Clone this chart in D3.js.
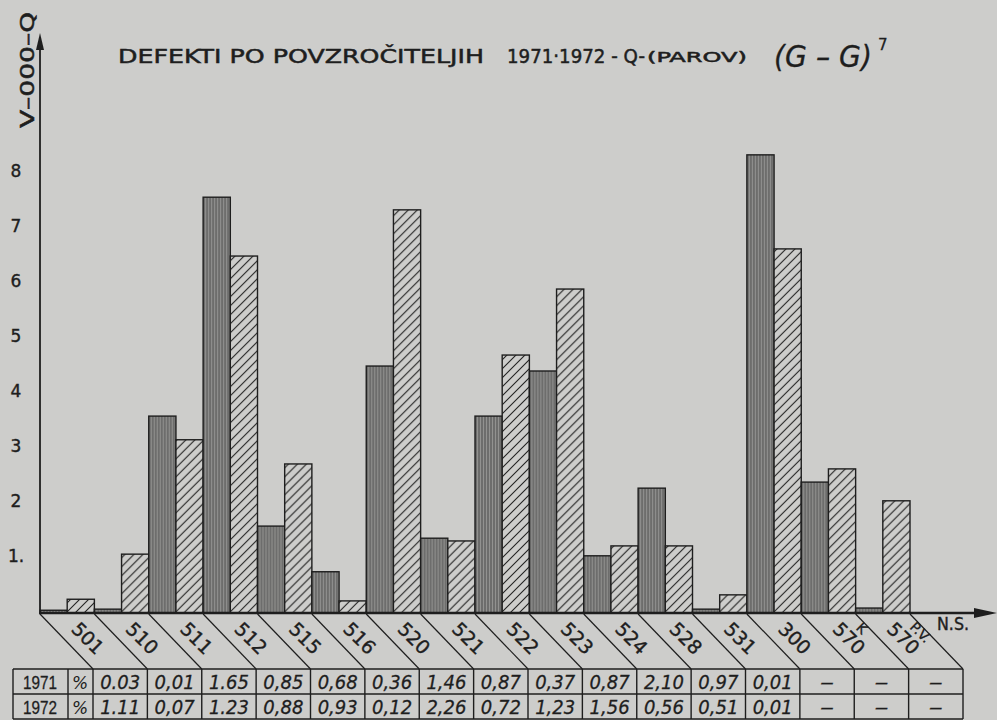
<!DOCTYPE html>
<html>
<head>
<meta charset="utf-8">
<script src="https://cdn.jsdelivr.net/npm/d3@7"></script>
<style>
  body { margin: 0; background: #cdcdcb; }
  svg { display: block; }
</style>
</head>
<body>
<svg id="chart" width="997" height="720"></svg>
<script>
// categories (povzročitelji) and sub labels under 570
var categories = ["501", "510", "511", "512", "515", "516", "520", "521", "522", "523", "524", "528", "531", "300", "570", "570"];
var subLabels  = ["", "", "", "", "", "", "", "", "", "", "", "", "", "", "K", "P.V."];
var years = ["1971", "1972"];

// bar heights
var values1971 = [0.05, 0.07, 3.58, 7.56, 1.58, 0.75, 4.49, 1.36, 3.58, 4.40, 1.04, 2.27, 0.07, 8.33, 2.38, 0.09];
var values1972 = [0.25, 1.07, 3.15, 6.49, 2.71, 0.22, 7.33, 1.31, 4.69, 5.89, 1.22, 1.22, 0.33, 6.62, 2.62, 2.04];

var yTicks = [1, 2, 3, 4, 5, 6, 7, 8];

// table under the chart (% per year)
var table1971 = ["0.03", "0,01", "1.65", "0,85", "0,68", "0,36", "1,46", "0,87", "0,37", "0,87", "2,10", "0,97", "0,01", "–", "–", "–"];
var table1972 = ["1.11", "0,07", "1.23", "0,88", "0,93", "0,12", "2,26", "0,72", "1,23", "1,56", "0,56", "0,51", "0,01", "–", "–", "–"];

var ink = "#1e1e1e";
var paper = "#cdcdcb";

var svg = d3.select("#chart");

var defs = svg.append("defs");
var pv = defs.append("pattern")
  .attr("id", "vert")
  .attr("patternUnits", "userSpaceOnUse")
  .attr("width", 3).attr("height", 10);
pv.append("rect").attr("width", 3).attr("height", 10).attr("fill", "#929290");
pv.append("line").attr("x1", 1).attr("x2", 1).attr("y1", 0).attr("y2", 10)
  .attr("stroke", "#4e4e4e").attr("stroke-width", 1.1);

var pd = defs.append("pattern")
  .attr("id", "diag")
  .attr("patternUnits", "userSpaceOnUse")
  .attr("width", 9).attr("height", 9);
pd.append("rect").attr("width", 9).attr("height", 9).attr("fill", paper);
pd.append("path").attr("d", "M0,9 L9,0 M-2,2 L2,-2 M7,11 L11,7")
  .attr("stroke", "#222").attr("stroke-width", 1.1);

// scales
var idx = d3.range(categories.length);
var x = d3.scaleBand().domain(idx).range([40, 910]).padding(0);
var x1 = d3.scaleBand().domain(years).range([0, x.bandwidth()]).padding(0);
var y = d3.scaleLinear().domain([0, 8]).range([613, 173]);
var w = x.bandwidth();

// title
var title = svg.append("g").attr("fill", ink).attr("stroke", ink).attr("stroke-width", 0.5)
  .style("font-family", "DejaVu Sans");
title.append("text").attr("x", 118).attr("y", 63)
  .style("font-size", "19px")
  .attr("textLength", 366).attr("lengthAdjust", "spacingAndGlyphs")
  .text("DEFEKTI PO POVZROČITELJIH");
title.append("text").attr("x", 507).attr("y", 63)
  .style("font-size", "19px")
  .attr("textLength", 138).attr("lengthAdjust", "spacingAndGlyphs")
  .text("1971·1972 - Q-");
title.append("text").attr("x", 647).attr("y", 62)
  .style("font-size", "14px")
  .attr("textLength", 100).attr("lengthAdjust", "spacingAndGlyphs")
  .text("(PAROV)");
title.append("text").attr("x", 774).attr("y", 67)
  .style("font-style", "italic")
  .style("font-size", "30px")
  .attr("stroke-width", 0.3)
  .attr("textLength", 98).attr("lengthAdjust", "spacingAndGlyphs")
  .text("(G – G)");
title.append("text").attr("x", 878).attr("y", 50)
  .style("font-size", "15px")
  .attr("stroke-width", 0.3)
  .text("7");

// y label
svg.append("text")
  .attr("transform", "translate(34,128) rotate(-90)")
  .attr("fill", ink).attr("stroke", ink).attr("stroke-width", 0.5)
  .style("font-family", "DejaVu Sans").style("font-size", "19px")
  .attr("textLength", 116).attr("lengthAdjust", "spacingAndGlyphs")
  .text("V–000–Q");

// bars
var groups = svg.append("g").selectAll("g")
  .data(idx)
  .enter().append("g")
    .attr("transform", function(i){ return "translate(" + x(i) + ",0)"; });

groups.selectAll("rect")
  .data(function(i){ return [{year: "1971", v: values1971[i]}, {year: "1972", v: values1972[i]}]; })
  .enter().append("rect")
    .attr("x", function(d){ return x1(d.year); })
    .attr("y", function(d){ return y(d.v); })
    .attr("width", x1.bandwidth())
    .attr("height", function(d){ return y(0) - y(d.v); })
    .attr("fill", function(d){ return d.year == "1971" ? "url(#vert)" : "url(#diag)"; })
    .attr("stroke", ink)
    .attr("stroke-width", 1.4);

// y axis ticks (labels only)
var yAxis = d3.axisLeft(y)
  .tickValues(yTicks)
  .tickSize(0)
  .tickPadding(20)
  .tickFormat(function(d){ return d == 1 ? "1." : d; });

var ya = svg.append("g")
  .attr("transform", "translate(40,-2)")
  .call(yAxis);
ya.select(".domain").remove();
ya.selectAll("text")
  .attr("fill", ink)
  .attr("stroke", ink).attr("stroke-width", 0.4)
  .style("font-family", "DejaVu Sans")
  .style("font-size", "17px")
  .attr("text-anchor", "middle")
  .attr("x", -24);

// axes lines with arrows
svg.append("line").attr("x1", 40).attr("x2", 40).attr("y1", 614).attr("y2", 46)
  .attr("stroke", ink).attr("stroke-width", 1.8);
svg.append("path").attr("d", "M40,33 L36,50 L44,50 Z").attr("fill", ink);
svg.append("line").attr("x1", 39).attr("x2", 980).attr("y1", 613).attr("y2", 613)
  .attr("stroke", ink).attr("stroke-width", 2.4);
svg.append("path").attr("d", "M997,613 L974,608 L974,618 Z").attr("fill", ink);

svg.append("text").attr("x", 937).attr("y", 630)
  .attr("fill", ink).attr("stroke", ink).attr("stroke-width", 0.4)
  .style("font-family", "DejaVu Sans").style("font-size", "17px")
  .attr("textLength", 32).attr("lengthAdjust", "spacingAndGlyphs")
  .text("N.S.");

// slanted separators under the axis
var tableTop = 669, rowMid = 694, tableBottom = 719;
svg.append("g").selectAll("line")
  .data(d3.range(categories.length + 1))
  .enter().append("line")
    .attr("x1", function(i){ return 40 + i * w; })
    .attr("y1", 614)
    .attr("x2", function(i){ return 40 + i * w + 53; })
    .attr("y2", tableTop)
    .attr("stroke", ink).attr("stroke-width", 1.2);

// category labels
var labs = svg.append("g").selectAll("g")
  .data(idx)
  .enter().append("g")
    .attr("transform", function(i){ return "translate(" + (x(i) + 48) + ",638) rotate(45)"; });

labs.append("text")
  .attr("y", 7)
  .attr("text-anchor", "middle")
  .attr("fill", ink).attr("stroke", ink).attr("stroke-width", 0.4)
  .style("font-family", "DejaVu Sans").style("font-size", "19px")
  .text(function(i){ return categories[i]; });

labs.append("text")
  .attr("x", function(i){ return subLabels[i] == "K" ? 2 : 8; })
  .attr("y", -11)
  .attr("text-anchor", "middle")
  .attr("fill", ink).attr("stroke", ink).attr("stroke-width", 0.3)
  .style("font-family", "DejaVu Sans").style("font-size", "14px")
  .text(function(i){ return subLabels[i]; });

// table
var colEdges = [13, 68].concat(d3.range(categories.length + 1).map(function(k){ return 93 + k * w; }));
var tRight = colEdges[colEdges.length - 1];
var table = svg.append("g").attr("stroke", ink).attr("stroke-width", 1.4);
[tableTop, rowMid, tableBottom].forEach(function(yy){
  table.append("line").attr("x1", 13).attr("x2", tRight).attr("y1", yy).attr("y2", yy);
});
colEdges.forEach(function(xx){
  table.append("line").attr("x1", xx).attr("x2", xx).attr("y1", tableTop).attr("y2", tableBottom);
});

var rows = [{year: "1971", cells: table1971, yc: 682}, {year: "1972", cells: table1972, yc: 707}];
rows.forEach(function(r){
  svg.append("text").attr("x", 40).attr("y", r.yc + 7)
    .attr("text-anchor", "middle").attr("fill", ink).attr("stroke", ink).attr("stroke-width", 0.3)
    .style("font-family", "Liberation Sans").style("font-size", "19px")
    .attr("textLength", 34).attr("lengthAdjust", "spacingAndGlyphs")
    .text(r.year);
  svg.append("text").attr("x", 80).attr("y", r.yc + 7)
    .attr("text-anchor", "middle").attr("fill", ink)
    .style("font-family", "DejaVu Sans").style("font-style", "italic").style("font-size", "17px")
    .text("%");
  svg.append("g").selectAll("text")
    .data(r.cells)
    .enter().append("text")
      .attr("x", function(d, k){ return 93 + k * w + w / 2; })
      .attr("y", r.yc + 7)
      .attr("text-anchor", "middle")
      .attr("fill", ink).attr("stroke", ink).attr("stroke-width", 0.3)
      .style("font-family", "DejaVu Sans")
      .style("font-style", "italic")
      .style("font-size", "19px")
      .attr("textLength", function(d){ return d == "–" ? 14 : 40; })
      .attr("lengthAdjust", "spacingAndGlyphs")
      .text(function(d){ return d; });
});
</script>
</body>
</html>
